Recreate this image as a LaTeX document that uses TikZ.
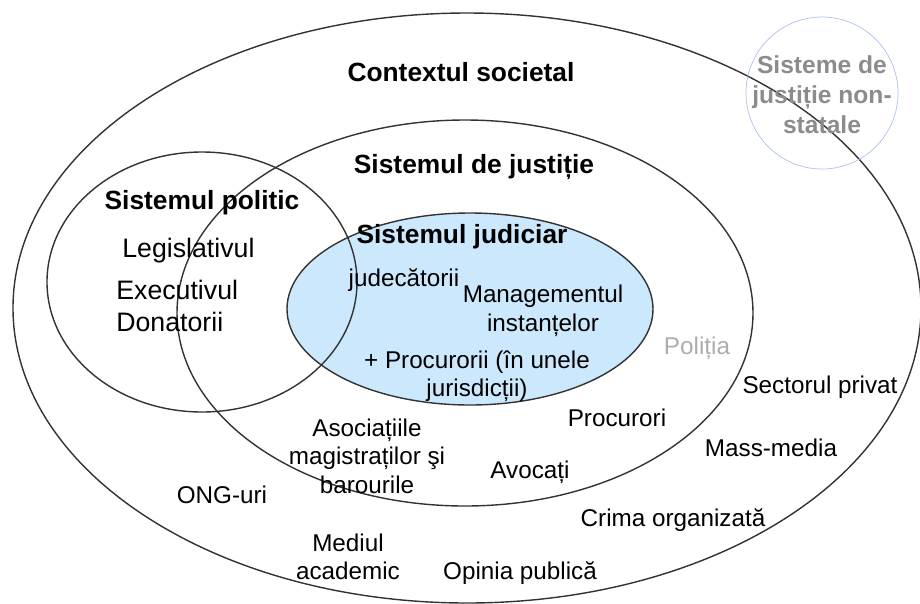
\documentclass[tikz,border=0pt]{standalone}
\usepackage{fontspec}
\setmainfont{Liberation Sans}
\begin{document}
\begin{tikzpicture}[x=0.02cm,y=-0.02cm,
    ring/.style={draw=ringgray,line width=0.8pt},
    head/.style={font=\fontsize{15}{18}\selectfont\bfseries,inner sep=0pt},
    item/.style={font=\fontsize{13.8}{16.2}\selectfont,align=center,inner sep=0pt},
    politem/.style={font=\fontsize{15.2}{18}\selectfont,anchor=west,inner sep=0pt}]

    \definecolor{ringgray}{gray}{0.2}
    \definecolor{judblue}{RGB}{204,232,252}
    \definecolor{nonstateblue}{RGB}{175,190,240}
    \definecolor{faintgray}{gray}{0.55}
    \definecolor{policegray}{gray}{0.68}

    % these coordinates fix the size of the picture
    \useasboundingbox (0,0) rectangle (920,603);

    %judicial system, filled first so the other rings lie on it
    \fill[judblue] (470,309) ellipse (183 and 96);
    \draw[ring] (470,309) ellipse (183 and 96);

    %rings
    \begin{scope}
    %societal context
    \draw[ring] (467,308) ellipse (454 and 295);
    %justice system
    \draw[ring] (465,313) ellipse (288 and 193);
    %political system
    \draw[ring] (202,282) ellipse (155 and 130);
    \end{scope}

    %non-state justice
    \draw[nonstateblue,line width=0.4pt] (822,93) circle (76);
    \node (nonstate) at (822,95) [head,text=faintgray,align=center,
      font=\fontsize{14}{17}\selectfont\bfseries] {Sisteme de\\justiție non-\\statale};

    %headings
    \node (societal) at (461,72) [head] {Contextul societal};
    \node (justice) at (474,167) [head] {Sistemul de justiție};
    \node (political) at (202,203) [head] {Sistemul politic};
    \node (judicial) at (462,237) [head] {Sistemul judiciar};

    %political system
    \node (legislative) at (122,251) [politem] {Legislativul};
    \node (executive) at (116,290) [politem] {Executivul};
    \node (donors) at (116,322) [politem] {Donatorii};

    %judicial system
    \node (judges) at (404,280) [item] {judecătorii};
    \node (courtmgmt) at (543,311) [item] {Managementul\\instanțelor};
    \node (prosecjud) at (477,376) [item] {+ Procurorii (în unele\\jurisdicții)};

    %justice system
    \node (police) at (697,348) [item,text=policegray] {Poliția};
    \node (prosecutors) at (617,418) [item] {Procurori};
    \node (lawyers) at (530,472) [item] {Avocați};
    \node (associations) at (367,456) [item] {Asociațiile\\magistraților şi\\barourile};

    %societal context
    \node (ngo) at (222,495) [item] {ONG-uri};
    \node (academia) at (348,557) [item] {Mediul\\academic};
    \node (opinion) at (520,573) [item] {Opinia publică};
    \node (crime) at (673,520) [item] {Crima organizată};
    \node (media) at (771,448) [item] {Mass-media};
    \node (private) at (820,387) [item] {Sectorul privat};

\end{tikzpicture}
\end{document}
